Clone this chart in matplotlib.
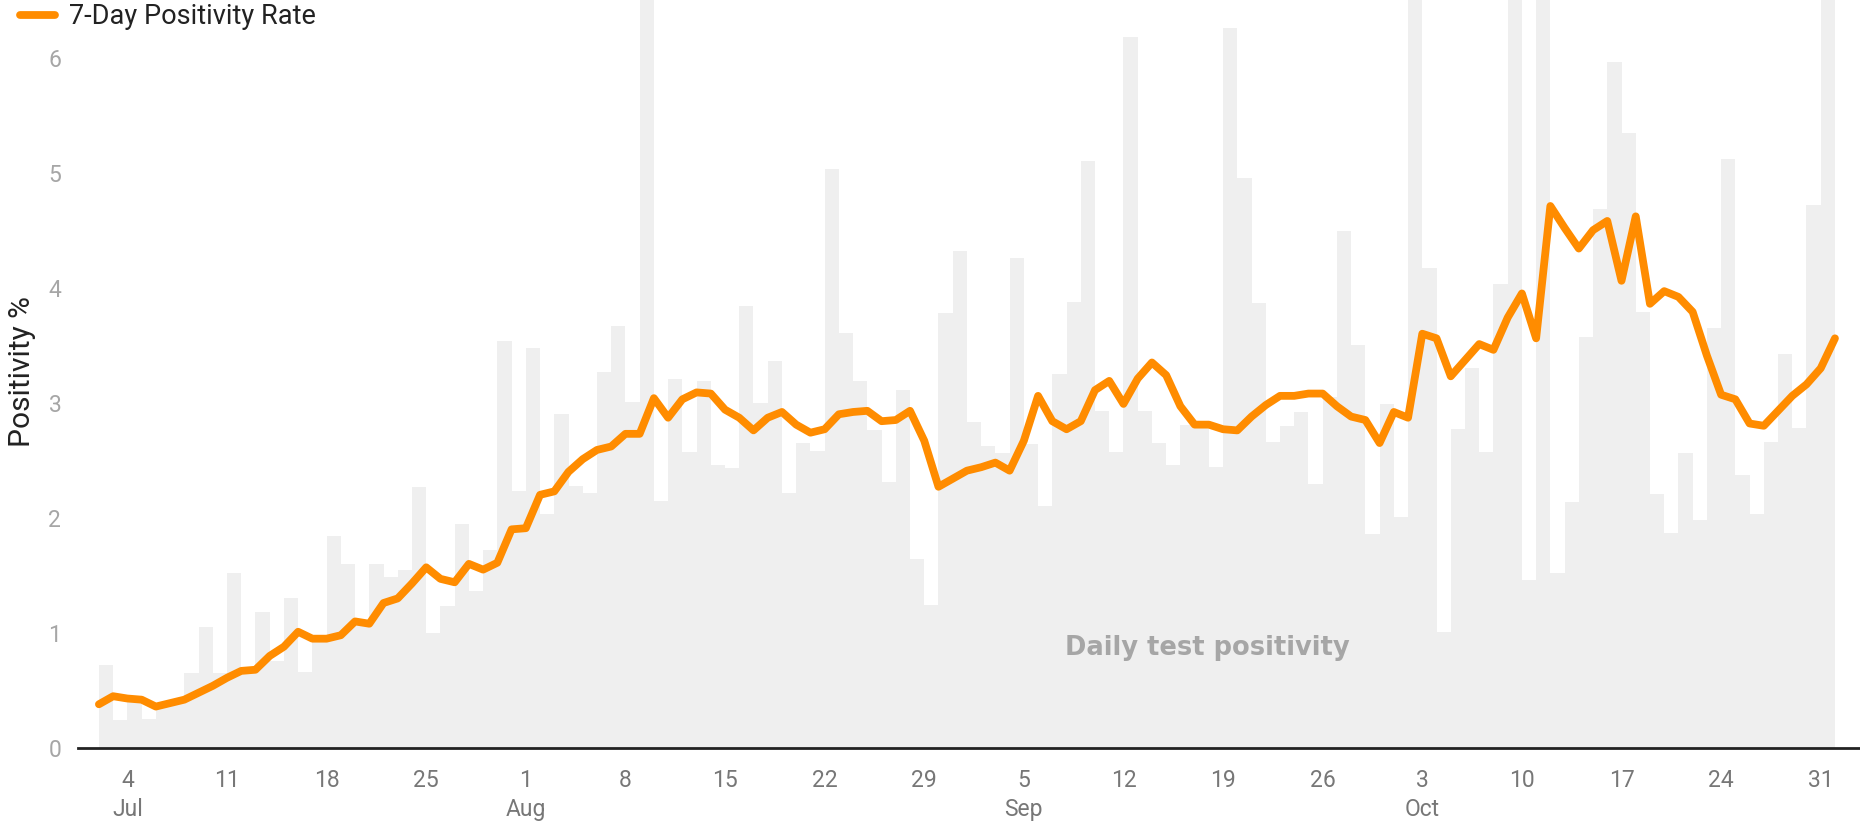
import numpy as np
import pandas as pd
import matplotlib
matplotlib.use("Agg")
import matplotlib.pyplot as plt
import matplotlib.dates as mdates
from matplotlib.lines import Line2D

plt.rcParams['font.family'] = ['Roboto', 'DejaVu Sans']

# daily test positivity, Jul 2 - Oct 31 (bars)
daily = [0.72, 0.24, 0.44, 0.25, 0.36, 0.40, 0.65, 1.05, 0.65, 1.52,
         0.65, 1.18, 0.76, 1.30, 0.66, 0.95, 1.84, 1.60, 1.10, 1.60,
         1.49, 1.55, 2.27, 1.00, 1.23, 1.95, 1.36, 1.72, 3.54, 2.23,
         3.48, 2.03, 2.90, 2.28, 2.22, 3.27, 3.67, 3.01, 7.00, 2.15,
         3.21, 2.57, 3.19, 2.46, 2.43, 3.84, 3.00, 3.36, 2.22, 2.65,
         2.58, 5.03, 3.61, 3.19, 2.76, 2.31, 3.11, 1.64, 1.24, 3.78,
         4.32, 2.83, 2.62, 2.56, 4.26, 2.64, 2.10, 3.25, 3.88, 5.10,
         2.93, 2.57, 6.18, 2.93, 2.65, 2.46, 2.81, 2.80, 2.44, 6.26,
         4.95, 3.87, 2.66, 2.80, 2.92, 2.29, 3.05, 4.49, 3.50, 1.86,
         2.99, 2.01, 7.00, 4.17, 1.01, 2.77, 3.30, 2.57, 4.03, 7.00,
         1.46, 7.00, 1.52, 2.14, 3.57, 4.68, 5.96, 5.34, 3.79, 2.21,
         1.87, 2.56, 1.98, 3.65, 5.12, 2.37, 2.03, 2.66, 3.42, 2.78,
         4.72, 7.00]

# 7-day positivity rate, Jul 2 - Nov 1 (line)
rate7 = [0.38, 0.45, 0.43, 0.42, 0.36, 0.39, 0.42, 0.48, 0.54, 0.61,
         0.67, 0.68, 0.80, 0.88, 1.01, 0.95, 0.95, 0.98, 1.10, 1.08,
         1.26, 1.30, 1.43, 1.57, 1.47, 1.44, 1.60, 1.55, 1.61, 1.90,
         1.91, 2.20, 2.23, 2.40, 2.51, 2.59, 2.62, 2.73, 2.73, 3.04,
         2.87, 3.03, 3.09, 3.08, 2.94, 2.87, 2.76, 2.87, 2.92, 2.81,
         2.74, 2.77, 2.90, 2.92, 2.93, 2.84, 2.85, 2.93, 2.67, 2.27,
         2.34, 2.41, 2.44, 2.48, 2.41, 2.67, 3.06, 2.84, 2.77, 2.84,
         3.11, 3.19, 2.99, 3.21, 3.35, 3.24, 2.97, 2.81, 2.81, 2.77,
         2.76, 2.88, 2.98, 3.06, 3.06, 3.08, 3.08, 2.97, 2.88, 2.85,
         2.65, 2.92, 2.87, 3.60, 3.56, 3.23, 3.37, 3.51, 3.46, 3.74,
         3.95, 3.56, 4.71, 4.52, 4.34, 4.50, 4.58, 4.06, 4.62, 3.86,
         3.97, 3.92, 3.79, 3.41, 3.07, 3.03, 2.82, 2.80, 2.93, 3.06,
         3.16, 3.30, 3.56]

bar_dates = pd.date_range("2021-07-02", periods=len(daily), freq="D")
line_dates = pd.date_range("2021-07-02", periods=len(rate7), freq="D")
tick_dates = pd.date_range("2021-07-04", "2021-10-31", freq="7D")
y_ticks = [0, 1, 2, 3, 4, 5, 6]

fig = plt.figure(figsize=(18.6, 8.26), dpi=100)
ax = fig.add_axes([78 / 1860, 1 - 748 / 826, 1 - 78 / 1860, 748 / 826])

ax.bar(bar_dates, daily, width=1.0, align="edge", color="#efefef", zorder=1)
ax.plot(line_dates, rate7, color="#ff8c00", lw=5.6, solid_joinstyle="round",
        solid_capstyle="round", zorder=3)

start = mdates.date2num(pd.Timestamp("2021-07-02"))
ax.set_xlim(start - 1.47, start + 123.76)
ax.set_ylim(0, 6.5)

# tick labels: day number, month name under the first tick of each month
labels = []
prev_month = None
for d in tick_dates:
    if d.month != prev_month:
        labels.append(f"{d.day}\n{d.strftime('%b')}")
        prev_month = d.month
    else:
        labels.append(f"{d.day}")
ax.set_xticks(tick_dates)
ax.set_xticklabels(labels, linespacing=1.35, va="top")
ax.set_yticks(y_ticks)

ax.tick_params(axis="x", length=0, pad=15, labelsize=16.5, labelcolor="#777777")
ax.tick_params(axis="y", length=0, pad=12, labelsize=16.5, labelcolor="#a6a6a6")

for s in ["top", "right", "left"]:
    ax.spines[s].set_visible(False)
ax.spines["bottom"].set_color("#222222")
ax.spines["bottom"].set_linewidth(2)
ax.spines["bottom"].set_zorder(4)

fig.text(22 / 1860, 1 - 372 / 826, "Positivity %", rotation=90, ha="center",
         va="center", fontsize=21.5, color="#222222")

ax.text(mdates.date2num(pd.Timestamp("2021-09-17")) + 0.9, 0.87,
        "Daily test positivity", ha="center", va="center", fontsize=18.5,
        fontweight="bold", color="#a6a6a6", family=["DejaVu Sans"],
        zorder=2)

handle = Line2D([0], [0], color="#ff8c00", lw=5.6, solid_capstyle="round")
fig.legend([handle], ["7-Day Positivity Rate"], loc="upper left",
           bbox_to_anchor=(20 / 1860, 1 - 3 / 826), frameon=False, fontsize=19.5,
           borderpad=0, borderaxespad=0, handlelength=1.3,
           handletextpad=0.5, labelcolor="#222222")

fig.savefig("out.png", dpi=100)
